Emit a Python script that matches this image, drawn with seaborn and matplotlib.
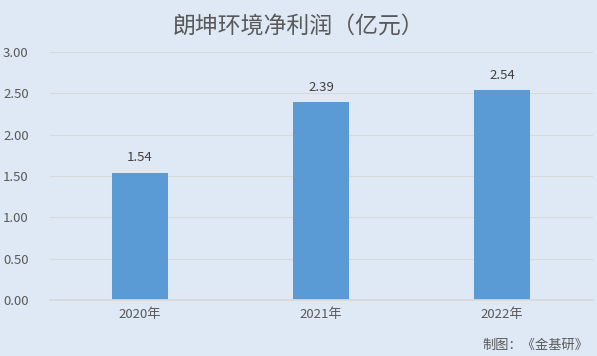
import matplotlib.pyplot as plt
import seaborn as sns

years = ["2020年", "2021年", "2022年"]
profit = [1.54, 2.39, 2.54]
yticks = [0.0, 0.5, 1.0, 1.5, 2.0, 2.5, 3.0]

bg = "#DEE9F5"
bar_color = "#5B9BD5"
text_color = "#595959"

sns.set_theme(style="white")
plt.rcParams['font.family'] = ['Noto Sans CJK SC', 'DejaVu Sans']

fig = plt.figure(figsize=(5.97, 3.56), dpi=100, facecolor=bg)
ax = fig.add_axes([0.083, 0.157, 0.9095, 0.697])
ax.set_facecolor(bg)

sns.barplot(x=years, y=profit, color=bar_color, width=0.31, saturation=1,
            linewidth=0, ax=ax)
ax.bar_label(ax.containers[0], labels=[f"{v:.2f}" for v in profit],
             padding=6, fontsize=9.5, color="#404040")

ax.set_xlim(-0.5, 2.5)
ax.set_ylim(0, 3.0)
ax.set_yticks(yticks)
ax.set_yticklabels([f"{t:.2f}" for t in yticks])
ax.yaxis.grid(True, color="#D9D9D9", linewidth=0.8)
ax.set_axisbelow(True)
for s in ["top", "right", "left"]:
    ax.spines[s].set_visible(False)
ax.spines["bottom"].set_color("#D9D9D9")
ax.tick_params(axis="both", length=0, labelsize=9.5, labelcolor=text_color)
ax.tick_params(axis="y", pad=15)
ax.tick_params(axis="x", pad=6)
ax.set_xlabel("")
ax.set_ylabel("")

fig.text(0.5, 0.925, "朗坤环境净利润（亿元）", ha="center", va="center",
         fontsize=16.5, color=text_color)
fig.text(0.985, 0.03, "制图：《金基研》", ha="right", va="center",
         fontsize=9.5, color=text_color)

fig.savefig("out.png", dpi=100, facecolor=bg)
